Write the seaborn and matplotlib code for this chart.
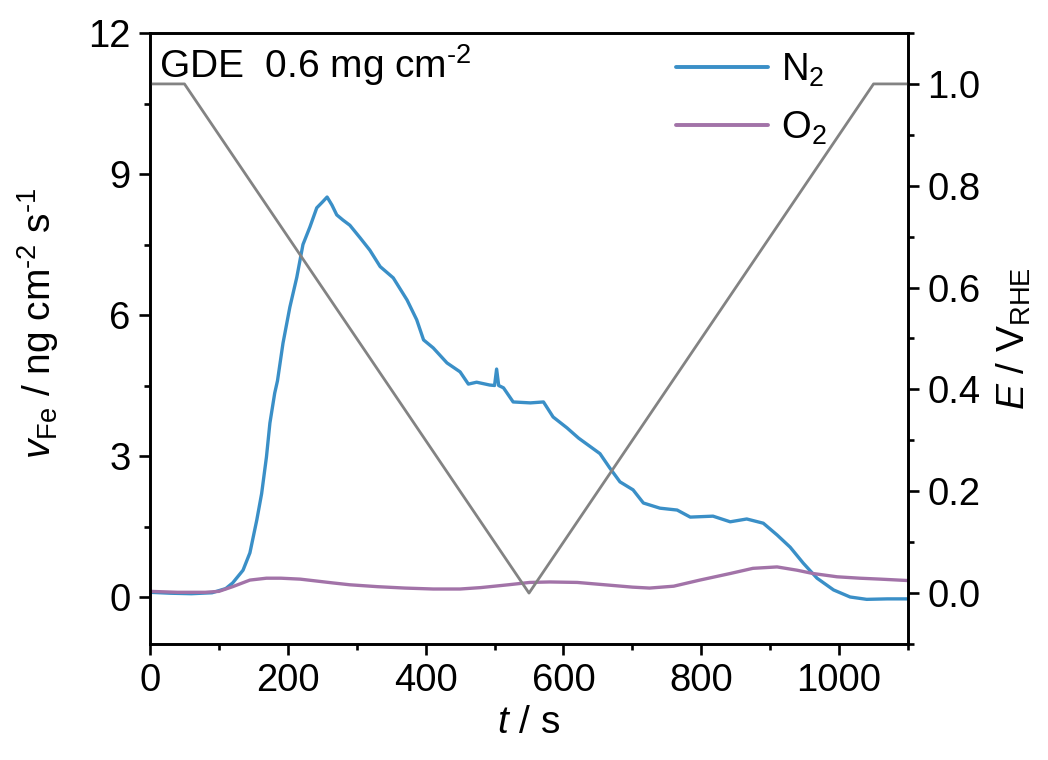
import numpy as np
import pandas as pd
import matplotlib
matplotlib.use("Agg")
import matplotlib.pyplot as plt
from matplotlib.ticker import MultipleLocator, FormatStrFormatter
import seaborn as sns

# ---------------- data ----------------
t_n2 = [0, 30, 60, 90, 110, 120, 135, 145, 155, 162, 169, 174, 181, 185, 193, 203,
        213, 222, 232, 242, 250, 257, 264, 271, 280, 290, 305, 319, 334, 353, 373,
        387, 397, 411, 431, 450, 462, 474, 493, 500, 503, 506, 513, 527, 552, 571,
        585, 605, 622, 653, 667, 682, 701, 716, 740, 765, 784, 817, 842, 866, 890,
        910, 929, 948, 968, 992, 1016, 1040, 1070, 1100]
v_n2 = [0.10, 0.08, 0.07, 0.09, 0.18, 0.30, 0.57, 0.94, 1.64, 2.20, 2.98, 3.70, 4.34,
        4.60, 5.40, 6.17, 6.80, 7.50, 7.87, 8.28, 8.40, 8.51, 8.34, 8.13, 8.02, 7.91,
        7.64, 7.38, 7.03, 6.79, 6.32, 5.90, 5.47, 5.30, 4.98, 4.79, 4.53, 4.57, 4.51,
        4.50, 4.85, 4.50, 4.45, 4.15, 4.13, 4.15, 3.83, 3.60, 3.38, 3.05, 2.75, 2.45,
        2.28, 2.00, 1.89, 1.85, 1.70, 1.72, 1.60, 1.66, 1.57, 1.32, 1.06, 0.72, 0.40,
        0.15, 0.00, -0.05, -0.04, -0.04]

t_o2 = [0, 40, 80, 100, 120, 145, 169, 190, 218, 265, 290, 330, 370, 411, 450, 480,
        520, 551, 580, 620, 660, 700, 725, 760, 798, 842, 875, 910, 939, 962, 997,
        1030, 1060, 1100]
v_o2 = [0.12, 0.10, 0.10, 0.12, 0.22, 0.36, 0.40, 0.40, 0.38, 0.30, 0.26, 0.22, 0.19,
        0.17, 0.17, 0.20, 0.26, 0.31, 0.32, 0.31, 0.26, 0.21, 0.19, 0.23, 0.36, 0.50,
        0.61, 0.64, 0.57, 0.50, 0.43, 0.40, 0.38, 0.35]

t_e = [0, 50, 550, 1050, 1100]
e_v = [1.0, 1.0, 0.0, 1.0, 1.0]

series_labels = ["N$_2$", "O$_2$"]
colors = {"N$_2$": "#3a8fc7", "O$_2$": "#a273a8"}

df = pd.concat([
    pd.DataFrame({"t": t_n2, "v": v_n2, "gas": series_labels[0]}),
    pd.DataFrame({"t": t_o2, "v": v_o2, "gas": series_labels[1]}),
], ignore_index=True)
df_e = pd.DataFrame({"t": t_e, "E": e_v})

# ---------------- style ----------------
sns.set_theme(style="ticks")
plt.rcParams["font.family"] = ["Liberation Sans", "DejaVu Sans"]
plt.rcParams["mathtext.fontset"] = "custom"
plt.rcParams["mathtext.rm"] = "Liberation Sans"
plt.rcParams["mathtext.it"] = "Liberation Sans:italic"
plt.rcParams["mathtext.bf"] = "Liberation Sans:bold"
for k in ["text.color", "axes.labelcolor", "xtick.color", "ytick.color", "axes.edgecolor"]:
    plt.rcParams[k] = "black"

FS = 27.5
fig = plt.figure(figsize=(10.48, 7.6), dpi=100)
ax = fig.add_axes([150 / 1048, 1 - 644 / 760, 758 / 1048, 611 / 760])

sns.lineplot(data=df, x="t", y="v", hue="gas", palette=colors, ax=ax,
             linewidth=2.4, sort=False, estimator=None)

ax2 = ax.twinx()
sns.lineplot(data=df_e, x="t", y="E", ax=ax2, color="#838383", linewidth=2.0,
             sort=False, estimator=None)

ax.set_xlim(0, 1100)
ax.set_ylim(-1, 12)
ax2.set_ylim(-0.1, 1.1)

ax.xaxis.set_major_locator(MultipleLocator(200))
ax.xaxis.set_minor_locator(MultipleLocator(100))
ax.yaxis.set_major_locator(MultipleLocator(3))
ax.yaxis.set_minor_locator(MultipleLocator(1.5))
ax2.yaxis.set_major_locator(MultipleLocator(0.2))
ax2.yaxis.set_minor_locator(MultipleLocator(0.1))
ax2.yaxis.set_major_formatter(FormatStrFormatter("%.1f"))

for a in (ax, ax2):
    for s in a.spines.values():
        s.set_linewidth(1.9)
        s.set_visible(True)
        s.set_color("black")
    a.tick_params(which="major", direction="out", length=8, width=1.9,
                  labelsize=FS, colors="black", pad=6)
    a.tick_params(which="minor", direction="out", length=4.5, width=1.9, colors="black")
ax.tick_params(axis="x", which="both", top=False)
ax.tick_params(axis="y", which="both", right=False)

ax.set_xlabel("$t$ / s", fontsize=28, labelpad=4)
ax.set_ylabel(r"$v_{\mathrm{Fe}}$ / ng cm$^{\text{-}2}$ s$^{\text{-}1}$", fontsize=28, labelpad=8)
ax.yaxis.set_label_coords(-0.118, 0.525)
ax2.set_ylabel(r"$E$ / V$_{\mathrm{RHE}}$", fontsize=28, labelpad=10)

ax.text(0.012, 0.985, r"GDE  0.6 mg cm$^{\text{-}2}$", transform=ax.transAxes,
        fontsize=28, va="top", ha="left")

handles, labels = ax.get_legend_handles_labels()
ax.legend(handles, labels, loc="upper left", bbox_to_anchor=(0.694, 0.97),
          frameon=False, fontsize=FS, handlelength=2.4, handletextpad=0.35,
          labelspacing=0.55, borderpad=0, borderaxespad=0)
for line in ax.get_legend().get_lines():
    line.set_linewidth(2.8)

fig.savefig("out.png", dpi=100)
